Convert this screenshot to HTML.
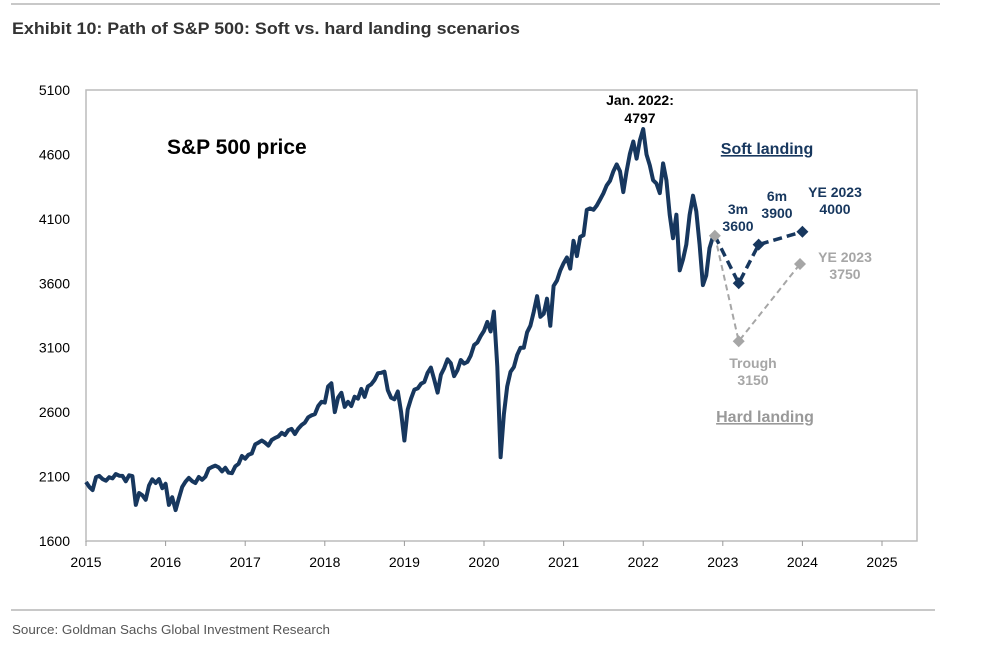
<!DOCTYPE html>
<html><head><meta charset="utf-8"><style>
body{margin:0;background:#fff;width:994px;height:657px;overflow:hidden;font-family:"Liberation Sans",Arial,sans-serif}
svg{display:block}
</style></head><body>
<svg id="c" width="994" height="657">
<line x1="11" y1="4" x2="940" y2="4" stroke="#c8c8c8" stroke-width="2"/>
<text x="12" y="34" font-size="17" font-weight="bold" fill="#333" textLength="508" lengthAdjust="spacingAndGlyphs">Exhibit 10: Path of S&amp;P 500: Soft vs. hard landing scenarios</text>
<line x1="11" y1="610" x2="935" y2="610" stroke="#c8c8c8" stroke-width="2"/>
<text x="12" y="634" font-size="13" fill="#555" textLength="318" lengthAdjust="spacingAndGlyphs">Source: Goldman Sachs Global Investment Research</text>
<rect x="86" y="90" width="831" height="451" fill="none" stroke="#bbb" stroke-width="1.5"/>
<g id="axes"></g>
<g id="series"></g>
<text x="167" y="154" font-size="21" font-weight="bold" fill="#000">S&amp;P 500 price</text>
<text x="640" y="105" font-size="14" font-weight="bold" text-anchor="middle" fill="#000">Jan. 2022:</text>
<text x="640" y="123" font-size="14" font-weight="bold" text-anchor="middle" fill="#000">4797</text>
<text x="767" y="154" font-size="16" font-weight="bold" text-anchor="middle" fill="#17375e" text-decoration="underline">Soft landing</text>
<text x="765" y="422" font-size="16" font-weight="bold" text-anchor="middle" fill="#999" text-decoration="underline">Hard landing</text>
<g font-size="14" font-weight="bold" text-anchor="middle" fill="#17375e">
<text x="738" y="214">3m</text>
<text x="738" y="231">3600</text>
<text x="777" y="201">6m</text>
<text x="777" y="218">3900</text>
<text x="835" y="197">YE 2023</text>
<text x="835" y="214">4000</text>
</g>
<g font-size="14" font-weight="bold" text-anchor="middle" fill="#a6a6a6">
<text x="845" y="262">YE 2023</text>
<text x="845" y="279">3750</text>
<text x="753" y="368">Trough</text>
<text x="753" y="385">3150</text>
</g>
</svg>
<script>
const yTicks=[1600,2100,2600,3100,3600,4100,4600,5100];
const xTicks=[2015,2016,2017,2018,2019,2020,2021,2022,2023,2024,2025];
const priceStart=2015.0;
const priceValues=[2058,
2020,1995,2095,2105,2080,2068,2095,2086,2120,2107,2105,2063,2110,2104,1880,1972,1955,1920,2030,2079,2050,2080,2010,2044,
1880,1940,1840,1932,2020,2060,2090,2065,2050,2097,2075,2099,2160,2174,2185,2171,2140,2168,2130,2126,2180,2199,2260,2239,
2270,2279,2350,2364,2380,2363,2340,2384,2400,2412,2440,2423,2460,2470,2430,2472,2500,2519,2560,2575,2585,2648,2680,2674,
2800,2824,2600,2714,2750,2641,2680,2648,2720,2705,2780,2718,2800,2816,2850,2902,2905,2914,2770,2712,2700,2760,2600,2380,
2620,2704,2775,2784,2820,2834,2905,2946,2850,2752,2890,2942,3010,2980,2880,2926,3005,2977,2990,3038,3120,3141,3190,3231,
3300,3226,3380,2954,2250,2585,2800,2912,2950,3044,3100,3100,3220,3271,3380,3500,3340,3363,3480,3270,3580,3622,3700,3756,
3800,3714,3930,3811,3960,3973,4170,4181,4170,4204,4250,4298,4360,4395,4470,4523,4470,4308,4470,4605,4700,4567,4710,4797,
4600,4516,4400,4374,4300,4530,4400,4132,3950,4132,3700,3785,3900,4130,4280,4158,3900,3586,3660,3872,3960];
const softDates=[2022.9,2023.2,2023.45,2024.0];
const softValues=[3969,3600,3900,4000];
const hardDates=[2022.9,2023.2,2023.97];
const hardValues=[3969,3150,3750];

const X0=86,X1=882,Y0=541,Y1=90;
const sx=d=>X0+(d-2015)*(X1-X0)/10;
const sy=v=>Y0-(v-1600)*(Y0-Y1)/3500;
const NS="http://www.w3.org/2000/svg";
const ax=document.getElementById('axes'),se=document.getElementById('series');
function mk(t,a,p){const e=document.createElementNS(NS,t);for(const k in a)e.setAttribute(k,a[k]);p.appendChild(e);return e;}
yTicks.forEach(v=>{
 const t=mk('text',{x:70,y:sy(v)+5,'font-size':14,'text-anchor':'end',fill:'#000'},ax);
 
 
 t.textContent=v;
});
xTicks.forEach(d=>{
 const l=mk('line',{x1:sx(d),x2:sx(d),y1:Y0,y2:Y0+5,stroke:'#999'},ax);
 
 
 const t=mk('text',{x:sx(d),y:Y0+26,'font-size':14,'text-anchor':'middle',fill:'#000'},ax);
 
 
 t.textContent=d;
});
const pts=priceValues.map((v,i)=>sx(priceStart+i/24).toFixed(1)+','+sy(v).toFixed(1)).join(' ');
const pl=mk('polyline',{points:pts,fill:'none',stroke:'#17375e','stroke-width':4,'stroke-linejoin':'round'},se);


const hp=mk('polyline',{points:hardDates.map((d,i)=>sx(d)+','+sy(hardValues[i])).join(' '),fill:'none',stroke:'#a6a6a6','stroke-width':2,'stroke-dasharray':'6,4'},se);


const sp=mk('polyline',{points:softDates.map((d,i)=>sx(d)+','+sy(softValues[i])).join(' '),fill:'none',stroke:'#17375e','stroke-width':3.5,'stroke-dasharray':'9,5'},se);


function diamond(x,y,c,n){const s=6;const p=mk('polygon',{points:`${x},${y-s} ${x+s},${y} ${x},${y+s} ${x-s},${y}`,fill:c},se);
 
 }
hardDates.forEach((d,i)=>{if(i>0)diamond(sx(d),sy(hardValues[i]),'#a6a6a6','hard-landing-point');});
softDates.forEach((d,i)=>{if(i>0)diamond(sx(d),sy(softValues[i]),'#17375e','soft-landing-point');});
diamond(sx(softDates[0]),sy(softValues[0]),'#a6a6a6','scenario-start-point');
</script>
</body></html>
